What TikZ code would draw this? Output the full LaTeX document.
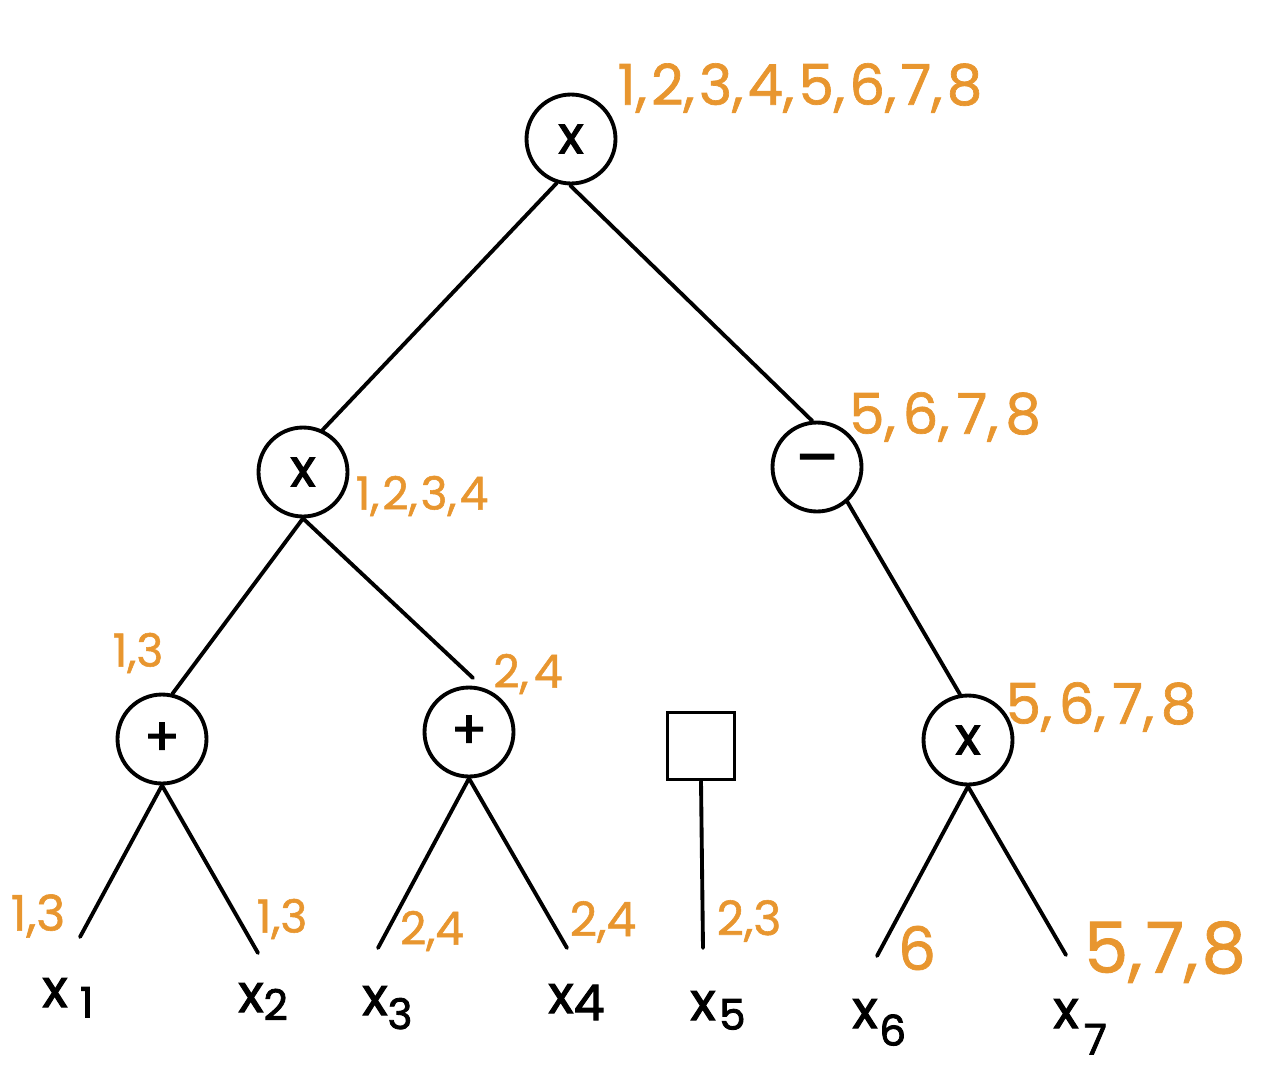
\documentclass[tikz,border=0pt]{standalone}
\usepackage{fontspec}
\setmainfont{Poppins}
\newfontfamily\orfont{Poppins}[FakeBold=1.2]
\newfontfamily\blfont{Poppins}[FakeBold=2]
\definecolor{orng}{HTML}{E8962F}
\newcommand\leafx[3]{x\kern#3\raisebox{-#2}{\fontsize{24}{24}\selectfont #1}}
\newcommand\fs[1]{\fontsize{#1}{#1}\selectfont}
\begin{document}
\begin{tikzpicture}[x=0.02cm,y=-0.02cm,
  op/.style={circle,draw,line width=2.2pt,minimum size=1.78cm,inner sep=0pt,font=\blfont\fontsize{30}{30}\selectfont},
  sq/.style={rectangle,draw,line width=2.2pt,minimum size=1.34cm,inner sep=0pt},
  lbl/.style={text=orng,inner sep=0pt},
  leaf/.style={font=\blfont\fontsize{30}{30}\selectfont,inner sep=0pt,anchor=base west},
  edge/.style={line width=2.2pt,line cap=round}]
\useasboundingbox (0,0) rectangle (1270,1072);
\node[op] (r) at (571,139) {x};
\node[op] (a) at (303,472) {x};
\node[op] (m) at (817,467) {\fontsize{36}{36}\selectfont –};
\node[op] (p1) at (162,739) {+};
\node[op] (p2) at (469,732) {+};
\node[sq] (s) at (701,746) {};
\node[op] (t) at (968,740) {x};
\node[leaf] (x1) at (42,1007) {\leafx{1}{6pt}{7pt}};
\node[leaf] (x2) at (238,1012) {\leafx{2}{4.5pt}{0pt}};
\node[leaf] (x3) at (362,1015) {\leafx{3}{8pt}{0pt}};
\node[leaf] (x4) at (548,1013) {x\raisebox{-4pt}{\fontsize{28}{28}\selectfont 4}};
\node[leaf] (x5) at (690,1020) {\leafx{5}{5.5pt}{2pt}};
\node[leaf] (x6) at (852,1028) {\leafx{6}{10pt}{1pt}};
\node[leaf] (x7) at (1053,1028) {\leafx{7}{15pt}{3pt}};
\coordinate (ep2) at (473,678);
\coordinate (e1) at (80,937);
\coordinate (e2) at (258,953);
\coordinate (e3) at (378,948);
\coordinate (e4) at (567,948);
\coordinate (e5) at (703,948);
\coordinate (e6) at (877,956);
\coordinate (e7) at (1066,955);
\draw[edge] (r.252) -- (a.65);
\draw[edge] (r.269) -- (m.96);
\draw[edge] (a.270) -- (p1.77);
\draw[edge] (a.270) -- (ep2);
\draw[edge] (m.311) -- (t.100);
\draw[edge] (p1.270) -- (e1);
\draw[edge] (p1.270) -- (e2);
\draw[edge] (p2.270) -- (e3);
\draw[edge] (p2.270) -- (e4);
\draw[edge] (s.south) -- (e5);
\draw[edge] (t.270) -- (e6);
\draw[edge] (t.270) -- (e7);
\node[lbl,font=\orfont\fs{32}] (l1) at (800,88) {1,\kern2.5pt 2,\kern2.5pt 3,\kern2.5pt 4,\kern2.5pt 5,\kern2.5pt 6,\kern2.5pt 7,\kern2.5pt 8};
\node[lbl,font=\orfont\fs{32}] (l2) at (945,417) {5,\kern4pt 6,\kern4pt 7,\kern4pt 8};
\node[lbl,font=\orfont\fs{26}] (l3) at (422,496) {1,\kern1.7pt 2,\kern1.7pt 3,\kern1.7pt 4};
\node[lbl,font=\orfont\fs{26}] (l4) at (138,653) {1,3};
\node[lbl,font=\orfont\fs{26}] (l5) at (528,674) {2,\kern3pt 4};
\node[lbl,font=\orfont\fs{32}] (l6) at (1101,707) {5,\kern3.8pt 6,\kern3.8pt 7,\kern3.8pt 8};
\node[lbl,font=\orfont\fs{28}] (l7) at (38,916) {1,3};
\node[lbl,font=\orfont\fs{26}] (l8) at (282,919) {1,3};
\node[lbl,font=\orfont\fs{26}] (l9) at (432,931) {2,4};
\node[lbl,font=\orfont\fs{27}] (l10) at (603,922) {2,4};
\node[lbl,font=\orfont\fs{27}] (l11) at (749,921) {2,3};
\node[lbl,font=\orfont\fs{34}] (l12) at (917,948) {6};
\node[lbl,font=\orfont\fs{40}] (l13) at (1165,952) {5,\kern2pt 7,\kern2pt 8};
\end{tikzpicture}
\end{document}
